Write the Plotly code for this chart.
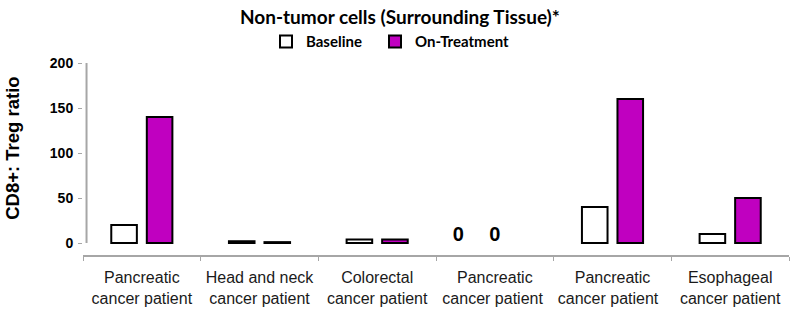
import plotly.graph_objects as go

categories = ["Pancreatic<br>cancer patient", "Head and neck<br>cancer patient",
              "Colorectal<br>cancer patient", "Pancreatic<br>cancer patient ",
              "Pancreatic<br>cancer patient  ", "Esophageal<br>cancer patient"]
baseline = [20, 2, 4, None, 40, 10]
on_treatment = [140, 1, 4, None, 160, 50]
# 4th patient: drawn as open "O" symbols resting on the zero line instead of bars
circle_baseline = [None, None, None, 17, None, None]
circle_treatment = [None, None, None, 17, None, None]
yticks = [0, 50, 100, 150, 200]

AX = "#a6a6a6"
OFONT = dict(family="Liberation Sans", size=20, color="black", weight="bold")
fig = go.Figure()
fig.add_trace(go.Bar(name="Baseline", x=categories, y=baseline,
                     marker=dict(color="white", line=dict(color="black", width=2)),
                     offsetgroup="b", legend="legend"))
fig.add_trace(go.Bar(name="On-Treatment", x=categories, y=on_treatment,
                     marker=dict(color="#c000c0", line=dict(color="black", width=2)),
                     offsetgroup="t", legend="legend2"))
for vals, off in ((circle_baseline, -0.41), (circle_treatment, -0.1)):
    fig.add_trace(go.Bar(x=categories, y=vals, base=-6,
                         text=["0" if v is not None else "" for v in vals],
                         textposition="inside", insidetextanchor="start",
                         constraintext="none", textfont=OFONT, textangle=0,
                         marker=dict(color="rgba(0,0,0,0)", line=dict(width=0)),
                         offset=off, width=0.2,
                         showlegend=False, hoverinfo="skip"))

LEGFONT = dict(family="Lato", size=15, color="black", weight="bold")
fig.update_layout(
    width=792, height=322,
    margin=dict(l=83, r=3, t=63, b=67, autoexpand=False),
    plot_bgcolor="white", paper_bgcolor="white",
    barmode="group", bargap=0.396, bargroupgap=0.28,
    title=dict(text="<b>Non-tumor cells (Surrounding Tissue)*</b>", x=0.505, xref="container",
               xanchor="center", y=0.945, yref="container", yanchor="middle",
               font=dict(family="Lato", size=19, color="black")),
    legend=dict(orientation="h", x=266 / 792, xref="container", xanchor="left",
                y=0.87, yref="container", yanchor="middle", font=LEGFONT, itemwidth=30),
    legend2=dict(orientation="h", x=375 / 792, xref="container", xanchor="left",
                 y=0.87, yref="container", yanchor="middle", font=LEGFONT, itemwidth=30),
    xaxis=dict(showline=True, linecolor=AX, linewidth=2, ticks="outside", tickcolor=AX,
               ticklen=4, tickwidth=1, tickson="boundaries", showgrid=False,
               tickangle=0, automargin=False, ticklabelstandoff=7,
               tickfont=dict(family="Liberation Sans", size=16, color="#1a1a1a")),
    yaxis=dict(range=[-13.3, 200], tickvals=yticks, showgrid=False, zeroline=False,
               showline=False, ticks="outside", tickcolor=AX, ticklen=4,
               ticklabelstandoff=2, automargin=False,
               tickfont=dict(family="Liberation Sans", size=14, color="black", weight="bold")),
    shapes=[dict(type="line", xref="paper", yref="y", x0=0.005, x1=0.005, y0=0, y1=200,
                 line=dict(color=AX, width=2))],
    annotations=[dict(text="<b>CD8+: Treg ratio</b>", xref="paper", yref="paper",
                      x=-0.1, y=0.555, textangle=-90, showarrow=False,
                      xanchor="center", yanchor="middle",
                      font=dict(family="Liberation Sans", size=18.5, color="black"))],
)
fig.write_html("out.html")
